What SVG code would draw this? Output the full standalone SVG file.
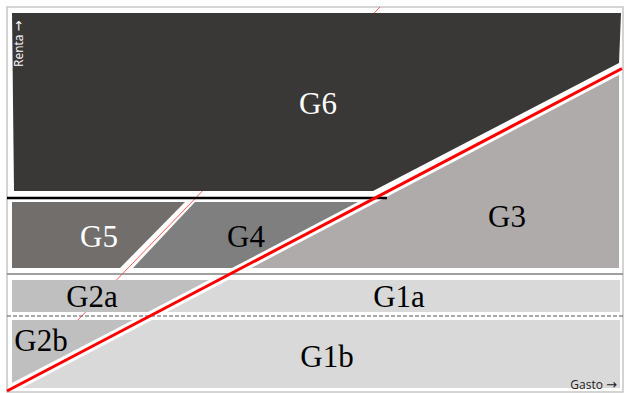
<svg xmlns="http://www.w3.org/2000/svg" width="625" height="393" viewBox="0 0 625 393">
<style>
.lbl{font-family:"Liberation Serif","DejaVu Serif",serif;font-size:31px;text-anchor:middle}
.ax{font-family:"Open Sans","Liberation Sans",sans-serif;font-size:12px}
.arr{font-family:"DejaVu Sans",sans-serif;font-size:13px}
</style>
<rect x="0" y="0" width="625" height="393" fill="#ffffff"/>
<rect x="7" y="7" width="616" height="385" fill="none" stroke="#c6c6c6" stroke-width="1.5"/>
<g id="connectors">
<line x1="380" y1="7" x2="75" y2="323" stroke="#ff5a5a" stroke-width="1"/>
</g>
<g id="G6">
<polygon points="12,13 621,13 619,63 373,191 14,191" fill="#3a3837"/>
<text class="lbl" x="318" y="114" fill="#ffffff">G6</text>
</g>
<g id="G3">
<polygon points="619,75 619,268 251,268" fill="#aeabaa"/>
<text class="lbl" x="507" y="227" fill="#000000">G3</text>
</g>
<g id="G4">
<polygon points="195,202 358,202 232,268 133,268" fill="#7f7f7f"/>
<text class="lbl" x="246" y="247" fill="#000000">G4</text>
</g>
<g id="G5">
<polygon points="12,202 185,202 120,268 12,268" fill="#716e6c"/>
<text class="lbl" x="99" y="247" fill="#ffffff">G5</text>
</g>
<g id="G2a">
<polygon points="12,280 209,280 148,312 12,312" fill="#bfbfbf"/>
<text class="lbl" x="92" y="307" fill="#000000">G2a</text>
</g>
<g id="G1a">
<polygon points="228,280 620,280 620,312 167,312" fill="#d9d9d9"/>
<text class="lbl" x="399" y="307" fill="#000000">G1a</text>
</g>
<g id="G2b">
<polygon points="12,320 133,320 12,383" fill="#bfbfbf"/>
<text class="lbl" x="41" y="351" fill="#000000">G2b</text>
</g>
<g id="G1b">
<polygon points="152,320 620,320 620,388 22,388" fill="#d9d9d9"/>
<text class="lbl" x="327" y="367" fill="#000000">G1b</text>
</g>
<g id="lines">
<line x1="7" y1="198" x2="387" y2="198" stroke="#000000" stroke-width="2.5"/>
<line x1="7" y1="274" x2="623" y2="274" stroke="#808080" stroke-width="1.5"/>
<line x1="7" y1="316" x2="623" y2="316" stroke="#555555" stroke-width="1.2" stroke-dasharray="4 2"/>
<line x1="7" y1="391" x2="622" y2="68.5" stroke="#ff0000" stroke-width="3"/>
</g>
<text class="ax" transform="translate(23,67) rotate(-90)" fill="#ffffff">Renta <tspan class="arr">→</tspan></text>
<text class="ax" x="617" y="389" text-anchor="end" fill="#222222">Gasto <tspan class="arr">→</tspan></text>
</svg>
